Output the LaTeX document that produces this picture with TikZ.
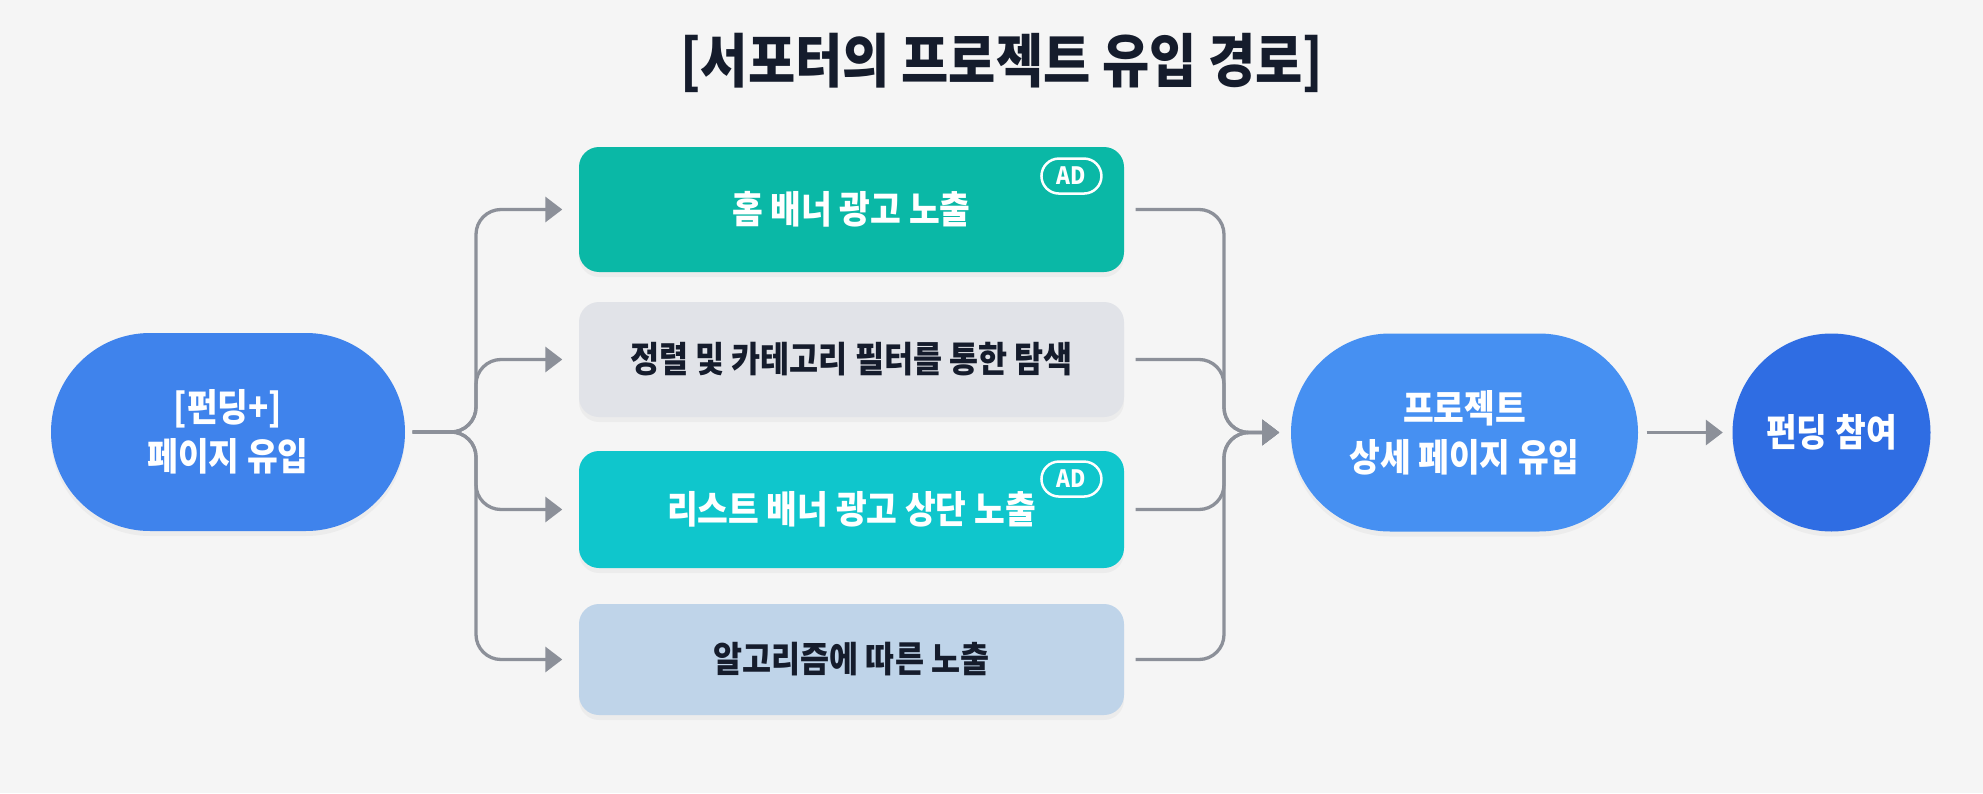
\documentclass[tikz,border=0pt]{standalone}
\usepackage{fontspec}
\newfontfamily\krfont{Noto Sans CJK KR}[FakeStretch=0.88]
\usetikzlibrary{arrows.meta}
\usetikzlibrary{positioning}
\usetikzlibrary{shadows}

\definecolor{pagebg}{HTML}{F5F5F5}
\definecolor{inkdark}{HTML}{151C2C}
\definecolor{linegray}{HTML}{8C9099}
\definecolor{entryblue}{HTML}{3F83EC}
\definecolor{detailblue}{HTML}{4690F2}
\definecolor{joinblue}{HTML}{2F6DE3}
\definecolor{hometeal}{HTML}{0AB8A6}
\definecolor{sortgray}{HTML}{E1E3E8}
\definecolor{listcyan}{HTML}{0FC6CC}
\definecolor{algoblue}{HTML}{BFD4E9}

\begin{document}
\begin{tikzpicture}[inner sep=0pt,node distance=1.5cm,
    lbl/.style={font=\krfont\bfseries\fontsize{10.8pt}{14pt}\selectfont,align=center},
    dark/.style={font=\krfont\bfseries\fontsize{10.2pt}{14pt}\selectfont,text=inkdark},
    soft/.style={drop shadow={opacity=0.07,shadow xshift=0cm,shadow yshift=-0.05cm}},
    pill/.style={lbl,soft,rounded corners=0.99cm,minimum height=1.98cm,text=white},
    route/.style={lbl,soft,rounded corners=0.2cm,minimum width=5.45cm},
    adtag/.style={draw=white,line width=0.025cm,rounded corners=0.175cm,
        minimum width=0.6cm,minimum height=0.35cm,text=white,
        font=\krfont\bfseries\fontsize{6.8pt}{7pt}\selectfont},
    flow/.style={draw=linegray,line width=0.033cm,rounded corners=0.25cm},
    tip/.style={-{Triangle[length=0.17cm,width=0.25cm]}}]
    \fill[pagebg] (0,0) rectangle (19.83,7.93);
    \useasboundingbox (0,0) rectangle (19.83,7.93);

    \node [font=\krfont\bfseries\fontsize{16.6pt}{19pt}\selectfont,text=inkdark]
        (title) at (10.02,7.30) {[서포터의 프로젝트 유입 경로]};

    % start, four routes, detail page, join
    \node [pill,fill=entryblue,minimum width=3.54cm] (entry) at (2.28,3.61)
        {[펀딩+]\\페이지 유입};
    \node [route,fill=hometeal,text=white,minimum height=1.25cm] (home)
        at (8.515,5.835) {홈 배너 광고 노출};
    \node [route,dark,fill=sortgray,minimum height=1.15cm,below of=home]
        (sort) {정렬 및 카테고리 필터를 통한 탐색};
    \node [route,fill=listcyan,text=white,minimum height=1.17cm,below of=sort]
        (list) {리스트 배너 광고 상단 노출};
    \node [route,dark,fill=algoblue,minimum height=1.11cm,below of=list]
        (algo) {알고리즘에 따른 노출};
    \node [adtag,anchor=north east] (homead)
        at ([xshift=-0.22cm,yshift=-0.11cm]home.north east) {AD};
    \node [adtag,anchor=north east] (listad)
        at ([xshift=-0.22cm,yshift=-0.10cm]list.north east) {AD};
    \node [pill,fill=detailblue,minimum width=3.47cm] (detail) at (14.645,3.605)
        {프로젝트\\상세 페이지 유입};
    \node [lbl,soft,circle,fill=joinblue,text=white,minimum size=1.98cm] (join)
        at (18.315,3.605) {펀딩 참여};

    \coordinate (split) at (4.76,3.61);
    \coordinate (merge) at (12.24,3.605);

    \draw [flow,tip,shorten <=0.07cm,shorten >=0.16cm]
        (entry.east) -- (split) |- (home.west);
    \draw [flow,tip,shorten <=0.07cm,shorten >=0.16cm]
        (entry.east) -- (split) |- (sort.west);
    \draw [flow,tip,shorten <=0.07cm,shorten >=0.16cm]
        (entry.east) -- (split) |- (list.west);
    \draw [flow,tip,shorten <=0.07cm,shorten >=0.16cm]
        (entry.east) -- (split) |- (algo.west);
    \draw [flow,tip,shorten <=0.11cm,shorten >=0.11cm]
        (home.east) -| (merge) -- (detail.west);
    \draw [flow,tip,shorten <=0.11cm,shorten >=0.11cm]
        (sort.east) -| (merge) -- (detail.west);
    \draw [flow,tip,shorten <=0.11cm,shorten >=0.11cm]
        (list.east) -| (merge) -- (detail.west);
    \draw [flow,tip,shorten <=0.11cm,shorten >=0.11cm]
        (algo.east) -| (merge) -- (detail.west);
    \draw [flow,tip,shorten <=0.08cm,shorten >=0.09cm]
        (detail.east) -- (join.west);
\end{tikzpicture}
\end{document}
